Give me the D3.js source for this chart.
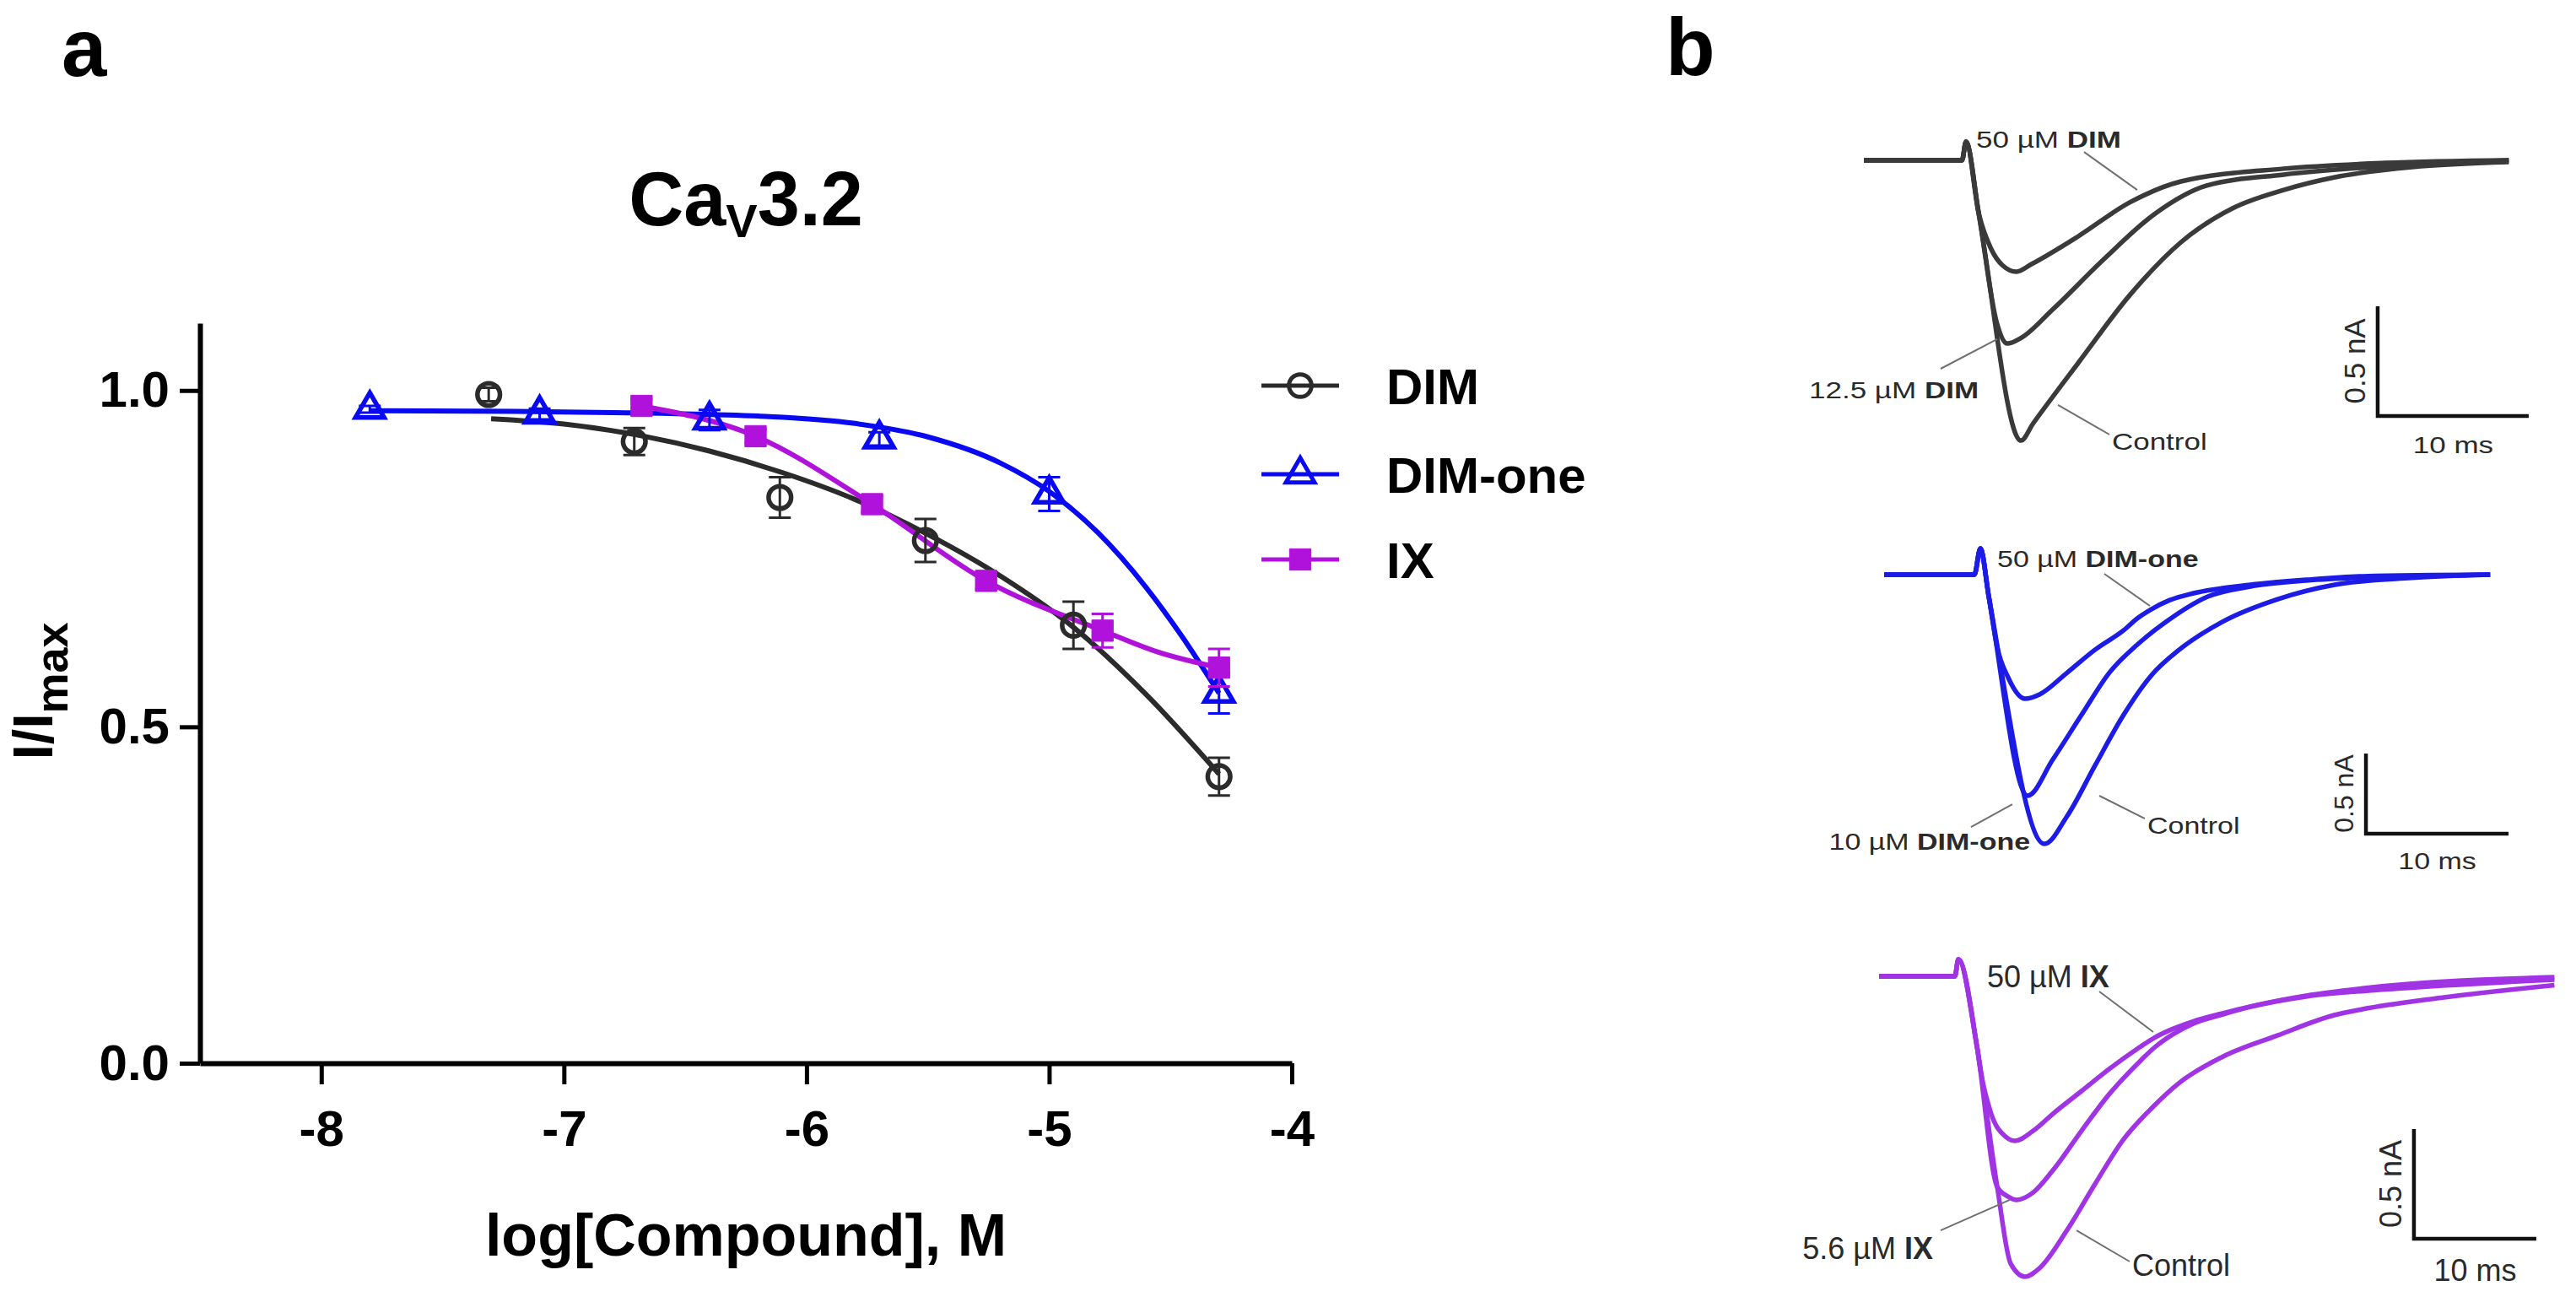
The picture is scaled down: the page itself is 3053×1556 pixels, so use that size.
<!DOCTYPE html>
<html>
<head>
<meta charset="utf-8">
<script src="https://cdn.jsdelivr.net/npm/d3@7"></script>
<style>
  body { margin: 0; background: #fff; }
  svg { display: block; font-family: "Liberation Sans", Arial, Helvetica, sans-serif; }
  text { white-space: pre; }
</style>
</head>
<body>
<div id="fig"></div>
<script>
const width = 3053;
const height = 1556;

// ---- panel a: concentration-response (log M vs I/Imax) ----
const dimX = [-7.31, -6.71, -6.11, -5.51, -4.90, -4.30];
const dimY = [0.994, 0.924, 0.841, 0.777, 0.651, 0.426];
const dimErr = [0.01, 0.02, 0.03, 0.032, 0.035, 0.028];
const dimFitX = [-7.3, -7.0, -6.7, -6.4, -6.1, -5.8, -5.5, -5.2, -4.9, -4.6, -4.3];
const dimFitY = [0.958, 0.950, 0.934, 0.910, 0.878, 0.838, 0.786, 0.724, 0.648, 0.548, 0.430];

const dimOneX = [-7.80, -7.10, -6.40, -5.70, -5.00, -4.30];
const dimOneY = [0.972, 0.965, 0.956, 0.928, 0.846, 0.550];
const dimOneErr = [0.005, 0.008, 0.015, 0.01, 0.025, 0.03];
const dimOneFitX = [-7.8, -7.2, -6.6, -6.2, -5.8, -5.5, -5.2, -5.0, -4.8, -4.6, -4.45, -4.3];
const dimOneFitY = [0.970, 0.969, 0.966, 0.962, 0.951, 0.931, 0.892, 0.850, 0.789, 0.707, 0.633, 0.550];

const ixX = [-6.68, -6.21, -5.73, -5.26, -4.78, -4.30];
const ixY = [0.977, 0.932, 0.831, 0.717, 0.643, 0.588];
const ixErr = [0.01, 0.01, 0.012, 0.012, 0.025, 0.028];
const ixFitX = [-6.68, -6.21, -5.73, -5.26, -4.78, -4.55, -4.3];
const ixFitY = [0.977, 0.932, 0.831, 0.717, 0.643, 0.611, 0.588];

const seriesNames = ["DIM", "DIM-one", "IX"];
const xTicks = [-8, -7, -6, -5, -4];
const yTicks = [0, 0.5, 1.0];

// ---- panel b: current traces (time in ms, current in nA) ----
const dimCtrlT = [0, 6.5, 6.76, 7.6, 10.4, 11.2, 14.2, 17.6, 21.0, 24.4, 27.8, 31.2, 36.3, 42.7];
const dimCtrlI = [0, 0, 0.085, -0.24, -1.277, -1.2, -0.923, -0.615, -0.373, -0.219, -0.135, -0.077, -0.031, -0.008];
const dim12T = [0, 6.5, 6.76, 7.6, 8.8, 9.5, 10.4, 12.5, 15.9, 19.3, 22.7, 27.8, 34.5, 42.7];
const dim12I = [0, 0, 0.085, -0.24, -0.74, -0.835, -0.81, -0.68, -0.45, -0.242, -0.115, -0.065, -0.027, 0];
const dim50T = [0, 6.5, 6.76, 7.6, 8.4, 9.2, 10.1, 11.1, 14.2, 17.6, 21.0, 27.8, 34.5, 42.7];
const dim50I = [0, 0, 0.085, -0.24, -0.40, -0.48, -0.508, -0.473, -0.346, -0.192, -0.096, -0.038, -0.012, 0];

const oneCtrlT = [0, 6.33, 6.75, 7.34, 11.24, 12.84, 14.8, 16.8, 18.76, 20.7, 23.7, 27.6, 31.6, 37.0, 42.5];
const oneCtrlI = [0, 0, 0.163, -0.137, -1.679, -1.505, -1.189, -0.874, -0.626, -0.468, -0.295, -0.153, -0.063, -0.02, 0];
const one10T = [0, 6.33, 6.75, 7.34, 10.06, 11.83, 13.85, 15.8, 17.75, 19.76, 22.7, 25.7, 29.6, 35.1, 42.5];
const one10I = [0, 0, 0.163, -0.137, -1.379, -1.153, -0.874, -0.611, -0.437, -0.295, -0.137, -0.074, -0.037, -0.015, 0];
const one50T = [0, 6.33, 6.75, 7.34, 7.93, 8.7, 9.88, 10.9, 12.84, 14.8, 16.8, 17.8, 18.76, 20.0, 21.7, 25.7, 29.6, 33.6, 42.5];
const one50I = [0, 0, 0.163, -0.137, -0.453, -0.642, -0.774, -0.747, -0.611, -0.468, -0.347, -0.27, -0.215, -0.16, -0.116, -0.063, -0.032, -0.01, 0];

const ixCtrlT = [0, 6.2, 6.48, 8.0, 9.66, 10.76, 11.93, 13.1, 15.4, 17.66, 20.0, 22.3, 24.55, 28.0, 32.6, 37.2, 39.5, 45.6, 55.2];
const ixCtrlI = [0, 0, 0.077, -0.319, -0.96, -1.31, -1.369, -1.331, -1.154, -0.946, -0.742, -0.6, -0.485, -0.369, -0.269, -0.177, -0.15, -0.1, -0.04];
const ix56T = [0, 6.2, 6.48, 8.0, 9.66, 10.55, 11.24, 12.6, 14.2, 16.55, 18.8, 21.1, 22.5, 24.0, 25.7, 28.0, 30.3, 34.9, 41.4, 55.2];
const ix56I = [0, 0, 0.077, -0.319, -0.96, -1.004, -1.019, -0.985, -0.885, -0.704, -0.538, -0.40, -0.325, -0.265, -0.215, -0.175, -0.14, -0.092, -0.06, -0.015];
const ix50T = [0, 6.2, 6.48, 8.0, 8.28, 9.17, 10.34, 11.1, 12.6, 14.2, 16.55, 18.8, 21.1, 22.5, 24.0, 25.7, 28.0, 30.3, 34.9, 39.5, 55.2];
const ix50I = [0, 0, 0.077, -0.319, -0.423, -0.627, -0.731, -0.75, -0.704, -0.627, -0.523, -0.423, -0.331, -0.28, -0.24, -0.205, -0.17, -0.138, -0.088, -0.055, -0.004];

const font = "\"Liberation Sans\", Arial, Helvetica, sans-serif";

const svg = d3.select("#fig")
  .append("svg")
  .attr("width", width)
  .attr("height", height);

svg.append("rect").attr("width", width).attr("height", height).attr("fill", "#fff");

// panel letters
svg.append("text").attr("x", 73).attr("y", 90)
  .style("font-size", "96px").style("font-weight", "bold").text("a");
svg.append("text").attr("x", 1974).attr("y", 89)
  .style("font-size", "96px").style("font-weight", "bold").text("b");

// ================= panel a =================
const x = d3.scaleLinear().domain([-8.5, -4]).range([237, 1531]);
const y = d3.scaleLinear().domain([0, 1.1]).range([1260, 383]);

const colors = ["#2b2b2b", "#0a0af2", "#b012dc"];

const title = svg.append("text")
  .attr("x", (x.range()[0] + x.range()[1]) / 2)
  .attr("y", 267)
  .attr("text-anchor", "middle")
  .style("font-size", "90px")
  .style("font-weight", "bold");
title.append("tspan").text("Ca");
title.append("tspan").attr("dy", 14).style("font-size", "56px").text("V");
title.append("tspan").attr("dy", -14).text("3.2");

const yAxis = svg.append("g")
  .attr("transform", "translate(" + x.range()[0] + ",0)")
  .call(d3.axisLeft(y).tickValues(yTicks).tickFormat(d3.format(".1f"))
    .tickSize(24).tickSizeOuter(0).tickPadding(12));

const xAxis = svg.append("g")
  .attr("transform", "translate(0," + y(0) + ")")
  .call(d3.axisBottom(x).tickValues(xTicks).tickFormat(function(d) { return String(d); })
    .tickSize(25).tickSizeOuter(0).tickPadding(30));

[yAxis, xAxis].forEach(function(g) {
  g.select(".domain").attr("stroke", "#000").attr("stroke-width", 6);
  g.selectAll(".tick line").attr("stroke", "#000").attr("stroke-width", 5);
  g.selectAll(".tick text")
    .attr("fill", "#000")
    .style("font-family", font)
    .style("font-size", "60px")
    .style("font-weight", "bold");
});

svg.append("text")
  .attr("x", (x.range()[0] + x.range()[1]) / 2)
  .attr("y", 1488)
  .attr("text-anchor", "middle")
  .style("font-size", "70px")
  .style("font-weight", "bold")
  .text("log[Compound], M");

const yLabel = svg.append("text")
  .attr("transform", "translate(62,819) rotate(-90)")
  .attr("text-anchor", "middle")
  .style("font-size", "66px")
  .style("font-weight", "bold");
yLabel.append("tspan").text("I/I");
yLabel.append("tspan").attr("dy", 18).style("font-size", "54px").text("max");

const series = [
  { name: seriesNames[0], x: dimX, y: dimY, err: dimErr, fx: dimFitX, fy: dimFitY, sym: d3.symbolCircle, size: 560, fill: "none" },
  { name: seriesNames[1], x: dimOneX, y: dimOneY, err: dimOneErr, fx: dimOneFitX, fy: dimOneFitY, sym: d3.symbolTriangle, size: 500, fill: "none" },
  { name: seriesNames[2], x: ixX, y: ixY, err: ixErr, fx: ixFitX, fy: ixFitY, sym: d3.symbolSquare, size: 640, fill: "fill" }
];

const line = d3.line()
  .x(function(d) { return x(d[0]); })
  .y(function(d) { return y(d[1]); })
  .curve(d3.curveMonotoneX);

series.forEach(function(s, i) {
  svg.append("path")
    .datum(d3.zip(s.fx, s.fy))
    .attr("d", line)
    .attr("fill", "none")
    .attr("stroke", colors[i])
    .attr("stroke-width", 6);
});

series.forEach(function(s, i) {
  const g = svg.append("g");
  const pts = d3.zip(s.x, s.y, s.err);
  pts.forEach(function(p) {
    const cx = x(p[0]);
    const top = y(p[1] + p[2]);
    const bot = y(p[1] - p[2]);
    g.append("path")
      .attr("d", "M" + cx + "," + top + "V" + bot +
        "M" + (cx - 13) + "," + top + "H" + (cx + 13) +
        "M" + (cx - 13) + "," + bot + "H" + (cx + 13))
      .attr("stroke", colors[i])
      .attr("stroke-width", 3)
      .attr("fill", "none");
  });
  g.selectAll(".pt")
    .data(pts)
    .enter()
    .append("path")
    .attr("transform", function(d) { return "translate(" + x(d[0]) + "," + y(d[1]) + ")"; })
    .attr("d", d3.symbol().type(s.sym).size(s.size))
    .attr("fill", s.fill === "fill" ? colors[i] : "none")
    .attr("stroke", colors[i])
    .attr("stroke-width", s.fill === "fill" ? 1 : 5.5);
});

// legend
const legend = svg.append("g").attr("transform", "translate(1495,457)");
series.forEach(function(s, i) {
  const row = legend.append("g").attr("transform", "translate(0," + [0, 105, 206][i] + ")");
  row.append("line")
    .attr("x1", 0).attr("x2", 92)
    .attr("stroke", colors[i]).attr("stroke-width", 5);
  row.append("path")
    .attr("transform", "translate(46,0)")
    .attr("d", d3.symbol().type(s.sym).size(s.size))
    .attr("fill", s.fill === "fill" ? colors[i] : "none")
    .attr("stroke", colors[i])
    .attr("stroke-width", s.fill === "fill" ? 1 : 5);
  row.append("text")
    .attr("x", 148).attr("y", 22)
    .style("font-size", "60px")
    .style("font-weight", "bold")
    .text(s.name);
});

// ================= panel b =================
const traceLayout = [
  { x0: 2209, msPx: 17.9, base: 190, naPx: 260, color: "#3a3a3a", font: 35, squash: 0.8, barFont: 35, gap: 44 },
  { x0: 2233, msPx: 16.9, base: 681, naPx: 190, color: "#1c1ce6", font: 34, squash: 0.8, barFont: 32, gap: 42 },
  { x0: 2227, msPx: 14.5, base: 1157, naPx: 260, color: "#a033e4", font: 36, squash: 1, barFont: 36, gap: 50 }
];

const traceSets = [
  [[dimCtrlT, dimCtrlI], [dim12T, dim12I], [dim50T, dim50I]],
  [[oneCtrlT, oneCtrlI], [one10T, one10I], [one50T, one50I]],
  [[ixCtrlT, ixCtrlI], [ix56T, ix56I], [ix50T, ix50I]]
];

// annotation anchors in data units [t, I]
const notes = [
  [
    { conc: "50 \u00B5M ", drug: "DIM", at: [7.43, 0.058], anchor: "start", lead: [[14.58, 0.038], [18.1, -0.135]] },
    { conc: "12.5 \u00B5M ", drug: "DIM", at: [7.6, -1.085], anchor: "end", lead: [[5.08, -0.95], [8.83, -0.815]] },
    { conc: "Control", drug: "", at: [16.42, -1.319], anchor: "start", lead: [[12.85, -1.115], [16.26, -1.25]] }
  ],
  [
    { conc: "50 \u00B5M ", drug: "DIM-one", at: [7.93, 0.047], anchor: "start", lead: [[15.44, 0.005], [18.64, -0.195]] },
    { conc: "10 \u00B5M ", drug: "DIM-one", at: [10.24, -1.716], anchor: "end", lead: [[6.09, -1.574], [8.99, -1.432]] },
    { conc: "Control", drug: "", at: [18.46, -1.616], anchor: "start", lead: [[15.09, -1.379], [18.28, -1.521]] }
  ],
  [
    { conc: "50 \u00B5M ", drug: "IX", at: [8.83, -0.05], anchor: "start", lead: [[18.0, -0.069], [22.41, -0.254]] },
    { conc: "5.6 \u00B5M ", drug: "IX", at: [4.41, -1.288], anchor: "end", lead: [[5.03, -1.158], [10.69, -1.019]] },
    { conc: "Control", drug: "", at: [20.69, -1.365], anchor: "start", lead: [[16.14, -1.158], [20.48, -1.3]] }
  ]
];

const scaleBars = [[34.02, -1.165], [33.79, -1.616], [43.72, -1.196]];

traceLayout.forEach(function(L, p) {
  const tx = d3.scaleLinear().domain([0, 10]).range([L.x0, L.x0 + 10 * L.msPx]);
  const ty = d3.scaleLinear().domain([0, -1]).range([L.base, L.base + L.naPx]);
  const g = svg.append("g");

  const tLine = d3.line()
    .x(function(d) { return tx(d[0]); })
    .y(function(d) { return ty(d[1]); })
    .curve(d3.curveMonotoneX);

  traceSets[p].forEach(function(tr) {
    g.append("path")
      .datum(d3.zip(tr[0], tr[1]))
      .attr("d", tLine)
      .attr("fill", "none")
      .attr("stroke", L.color)
      .attr("stroke-width", 5.5)
      .attr("stroke-linejoin", "round");
  });

  notes[p].forEach(function(n) {
    g.append("line")
      .attr("x1", tx(n.lead[0][0])).attr("y1", ty(n.lead[0][1]))
      .attr("x2", tx(n.lead[1][0])).attr("y2", ty(n.lead[1][1]))
      .attr("stroke", "#707070").attr("stroke-width", 2);
    const t = g.append("text")
      .attr("transform", "translate(" + tx(n.at[0]) + "," + ty(n.at[1]) + ") scale(1," + L.squash + ")")
      .attr("text-anchor", n.anchor)
      .attr("fill", "#2a2a2a")
      .style("font-size", L.font + "px");
    t.append("tspan").text(n.conc);
    if (n.drug) t.append("tspan").style("font-weight", "bold").text(n.drug);
  });

  const sb = scaleBars[p];
  const bx = tx(sb[0]);
  const by = ty(sb[1]);
  const bxEnd = tx(sb[0] + 10);
  const byTop = ty(sb[1] + 0.5);
  g.append("path")
    .attr("d", "M" + bx + "," + byTop + "V" + by + "H" + bxEnd)
    .attr("fill", "none")
    .attr("stroke", "#111")
    .attr("stroke-width", 4.5);
  g.append("text")
    .attr("transform", "translate(" + (bx - 15) + "," + ((by + byTop) / 2) + ") rotate(-90)")
    .attr("text-anchor", "middle")
    .attr("fill", "#2a2a2a")
    .style("font-size", L.barFont + "px")
    .text("0.5 nA");
  g.append("text")
    .attr("transform", "translate(" + ((bx + bxEnd) / 2) + "," + (by + L.gap) + ") scale(1," + L.squash + ")")
    .attr("text-anchor", "middle")
    .attr("fill", "#2a2a2a")
    .style("font-size", L.font + "px")
    .text("10 ms");
});
</script>
</body>
</html>
